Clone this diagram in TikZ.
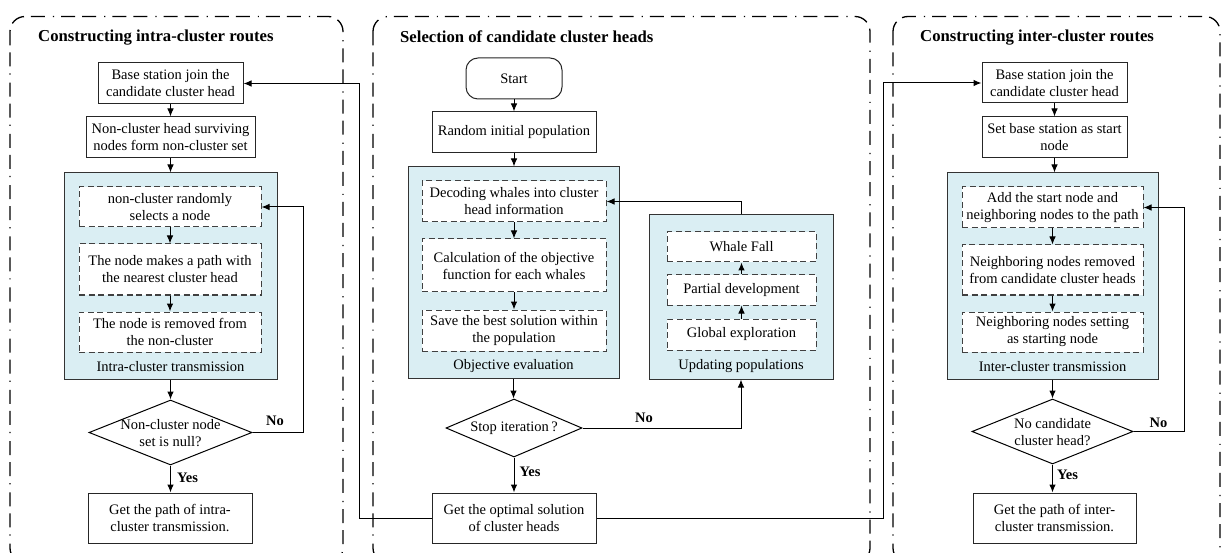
\documentclass[tikz,border=0pt]{standalone}
\usepackage{fontspec}
\setmainfont{Liberation Serif}
\usetikzlibrary{arrows.meta,shapes.geometric}
\definecolor{panelblue}{HTML}{DAEEF3}
\begin{document}
\begin{tikzpicture}[x=1pt,y=-1pt,
 txt/.style={font=\fontsize{14.5}{17}\selectfont},
 box/.style={draw=black!85, line width=1pt, fill=white, rectangle, inner sep=0pt, align=center, txt},
 dbox/.style={box, draw=black!75, dash pattern=on 6pt off 3.5pt},
 cont/.style={draw=black!80, line width=1pt, fill=panelblue, rectangle, inner sep=0pt},
 dia/.style={draw=black, line width=1pt, diamond, fill=white, inner sep=0pt},
 diat/.style={txt, align=center, inner sep=0pt},
 arr/.style={line width=1pt, -{Latex[length=8pt,width=6.5pt]}},
 panel/.style={line width=1.3pt, dash pattern=on 14pt off 7pt on 14pt off 7pt on 1.2pt off 8pt, rounded corners=15pt},
 ttl/.style={font=\fontsize{16.7}{20}\selectfont\bfseries, anchor=west, inner sep=0pt},
 yn/.style={font=\fontsize{14.5}{17}\selectfont\bfseries, inner sep=0pt},
 clab/.style={txt, inner sep=0pt}
]
\useasboundingbox (0,0) rectangle (1223,553);
\clip (0,0) rectangle (1223,553);

% panels
\draw[panel] (10,16.5) rectangle (343,563);
\draw[panel] (373,16.5) rectangle (870,563);
\draw[panel] (893,16.5) rectangle (1220,563);

\node[ttl] (t1) at (38,38) {Constructing intra-cluster routes};
\node[ttl] (t2) at (400,37) {Selection of candidate cluster heads};
\node[ttl] (t3) at (920,38) {Constructing inter-cluster routes};

% ---------------- left panel
\node[box, minimum width=145pt, minimum height=41pt] (lb1) at (170.5,83.5) {Base station join the\\candidate cluster head};
\node[box, minimum width=169pt, minimum height=41pt] (lb2) at (170.5,137.5) {Non-cluster head surviving\\nodes form non-cluster set};
\node[cont, minimum width=213pt, minimum height=206pt] (lc) at (170.5,276) {};
\node[dbox, minimum width=182pt, minimum height=40pt] (li1) at (170,207) {non-cluster randomly\\selects a node};
\node[dbox, minimum width=182pt, minimum height=51pt] (li2) at (170,269.5) {The node makes a path with\\the nearest cluster head};
\node[dbox, minimum width=182pt, minimum height=40pt] (li3) at (170,332) {The node is removed from\\the non-cluster};
\node[clab] (lcl) at (170.5,367) {Intra-cluster transmission};
\node[dia, minimum width=163pt, minimum height=65pt] (ld) at (170.5,432.5) {};
\node[diat] (ldt) at (170.5,433.5) {Non-cluster node\\set is null?};
\node[box, minimum width=164pt, minimum height=50pt] (lf) at (170,518) {Get the path of intra-\\cluster transmission.};
\node[yn] (lyes) at (187.5,478) {Yes};
\node[yn] (lno) at (275,421) {No};

\draw[arr] (lb1.south) -- (lb1.south |- lb2.north);
\draw[arr] (lb2.south) -- (lb2.south |- lc.north);
\draw[arr] (li1.south) -- (li1.south |- li2.north);
\draw[arr] (li2.south) -- (li2.south |- li3.north);
\draw[arr] (lc.south) -- (lc.south |- ld.north);
\draw[arr] (ld.south) -- (ld.south |- lf.north);
\draw[arr] (ld.east) -- ++(51,0) |- (li1.east);

% ---------------- middle panel
\node[box, rounded corners=12pt, minimum width=96pt, minimum height=41pt] (st) at (514,78.5) {Start};
\node[box, minimum width=164pt, minimum height=41pt] (rip) at (514,132.5) {Random initial population};
\node[cont, minimum width=211pt, minimum height=211pt] (mc) at (513.5,272.5) {};
\node[dbox, minimum width=184pt, minimum height=41pt] (mi1) at (514,201.5) {Decoding whales into cluster\\head information};
\node[dbox, minimum width=184pt, minimum height=53pt] (mi2) at (514,265.5) {Calculation of the objective\\function for each whales};
\node[dbox, minimum width=184pt, minimum height=41pt] (mi3) at (514,330.5) {Save the best solution within\\the population};
\node[clab] (mcl) at (513.5,366) {Objective evaluation};
\node[cont, minimum width=184pt, minimum height=164pt] (uc) at (741,297) {};
\node[dbox, minimum width=149pt, minimum height=30pt] (uw) at (741.5,247) {Whale Fall};
\node[dbox, minimum width=149pt, minimum height=30pt] (up) at (741.5,290) {Partial development};
\node[dbox, minimum width=149pt, minimum height=31pt] (ug) at (741.5,334.5) {Global exploration};
\node[clab] (ucl) at (741,366) {Updating populations};
\node[dia, minimum width=136pt, minimum height=58pt] (md) at (514,428) {};
\node[diat] (mdt) at (514,428) {Stop iteration\,?};
\node[box, minimum width=164pt, minimum height=50pt] (mf) at (514,518) {Get the optimal solution\\of cluster heads};
\node[yn] (myes) at (530,472) {Yes};
\node[yn] (mno) at (644,418) {No};

\draw[arr] (st.south) -- (st.south |- rip.north);
\draw[arr] (rip.south) -- (rip.south |- mc.north);
\draw[arr] (mi1.south) -- (mi1.south |- mi2.north);
\draw[arr] (mi2.south) -- (mi2.south |- mi3.north);
\draw[arr] (mc.south) -- (mc.south |- md.north);
\draw[arr] (md.south) -- (md.south |- mf.north);
\draw[arr] (md.east) -| (uc.south);
\draw[arr] (ug.north) -- (up.south);
\draw[arr] (up.north) -- (uw.south);
\draw[arr] (uc.north) |- (mi1.east);

% ---------------- right panel
\node[box, minimum width=145pt, minimum height=40pt] (rb1) at (1054.5,83) {Base station join the\\candidate cluster head};
\node[box, minimum width=145pt, minimum height=41pt] (rb2) at (1054.5,137.5) {Set base station as start\\node};
\node[cont, minimum width=211pt, minimum height=206pt] (rc) at (1052.5,276) {};
\node[dbox, minimum width=181pt, minimum height=41pt] (ri1) at (1052.5,207.5) {Add the start node and\\neighboring nodes to the path};
\node[dbox, minimum width=181pt, minimum height=50pt] (ri2) at (1052.5,270) {Neighboring nodes removed\\from candidate cluster heads};
\node[dbox, minimum width=181pt, minimum height=40pt] (ri3) at (1052.5,332) {Neighboring nodes setting\\as starting node};
\node[clab] (rcl) at (1052.5,367) {Inter-cluster transmission};
\node[dia, minimum width=161pt, minimum height=65pt] (rd) at (1052.5,431.5) {};
\node[diat] (rdt) at (1052.5,432) {No candidate\\cluster head?};
\node[box, minimum width=163pt, minimum height=50pt] (rf) at (1054.5,518) {Get the path of inter-\\cluster transmission.};
\node[yn] (ryes) at (1067.5,475) {Yes};
\node[yn] (rno) at (1158.5,423) {No};

\draw[arr] (rb1.south) -- (rb1.south |- rb2.north);
\draw[arr] (rb2.south) -- (rb2.south |- rc.north);
\draw[arr] (ri1.south) -- (ri1.south |- ri2.north);
\draw[arr] (ri2.south) -- (ri2.south |- ri3.north);
\draw[arr] (rc.south) -- (rc.south |- rd.north);
\draw[arr] (rd.south) -- (rd.south |- rf.north);
\draw[arr] (rd.east) -- ++(51,0) |- (ri1.east);

% ---------------- cross-panel connectors
\draw[arr] (mf.west) -- ++(-72,0) |- (lb1.east);
\draw[arr] (mf.east) -- ++(287,0) |- (rb1.west);
\end{tikzpicture}
\end{document}
